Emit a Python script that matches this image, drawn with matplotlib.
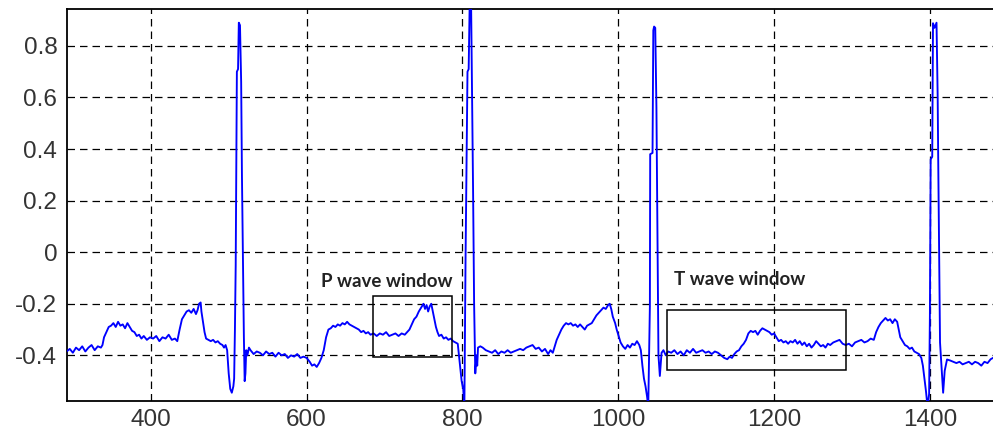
import matplotlib
matplotlib.use("Agg")
import matplotlib.pyplot as plt
from matplotlib.patches import Rectangle

# ECG trace (sample index, amplitude)
ecg_x = [292, 296, 300, 304, 308, 312, 316, 320, 324, 328, 332, 336,
         338, 340, 343, 346, 349, 352, 355, 358, 361, 364, 367, 370, 373,
         376, 379, 382, 385, 388, 391, 395, 399, 403, 407, 411, 415, 419, 423, 427, 431, 434,
         437, 440, 443, 446, 449, 452, 455, 458, 460, 462, 464, 465, 467, 469, 471, 474, 477,
         480, 483, 486, 489, 492, 494, 496,
         498, 500, 502, 504, 506, 507, 508, 509, 510.5, 512, 513, 514.5, 516, 517, 518.5,
         519.5, 520.5, 521.5, 522.5, 524, 526,
         528, 532, 536, 540, 544, 548, 552, 556, 560, 564, 568, 572, 576, 580, 584, 588, 592, 596, 600,
         604, 607, 610, 613, 616,
         619, 622, 625, 628, 631, 634, 637, 640, 643, 646, 649, 652, 655, 658, 661, 664, 667, 670,
         673, 676, 679, 682, 686, 690, 694, 698, 702, 706, 710, 714, 718, 722, 726, 729,
         732, 735, 738, 741, 744, 747, 750, 752, 754, 756, 758, 760, 762, 764, 766, 768, 770,
         773, 776, 779, 782, 785, 788, 791, 794,
         797, 799, 801, 802.5, 804, 806.5, 808, 809.5, 811, 813.7, 815, 816.5, 818, 819, 820, 823, 826,
         830, 834, 838, 842, 846, 850, 854, 858, 862, 866, 870, 874, 878, 882, 886, 890, 894, 898,
         902, 906, 910, 913, 916,
         918, 921, 924, 927, 930, 933, 936, 939, 942, 945, 948, 951, 954, 957, 960, 963, 966, 969,
         972, 975, 978, 981, 984, 987, 989, 991, 993, 996, 998, 1000, 1003, 1006, 1009, 1012, 1015,
         1018, 1021, 1024, 1027, 1029, 1031, 1033, 1035, 1037, 1038.5,
         1040.6, 1041, 1044, 1045, 1046, 1047.5, 1049, 1050.5, 1051.6, 1053.4, 1055.6, 1058, 1061, 1064,
         1068, 1072, 1076, 1080, 1084, 1088, 1092, 1096, 1100, 1104, 1108, 1112, 1116, 1120, 1124,
         1128, 1132, 1136, 1140, 1143, 1146, 1149, 1152, 1155, 1158, 1161, 1164, 1167, 1170, 1173,
         1176, 1179, 1182, 1185, 1188, 1191, 1194, 1197, 1200, 1203, 1206, 1209, 1212, 1215, 1218,
         1221, 1224, 1227, 1230, 1233, 1236, 1239, 1242, 1245, 1248, 1251, 1254, 1257, 1260, 1263,
         1266, 1269, 1272,
         1276, 1280, 1284, 1288, 1292, 1296, 1300, 1304, 1308, 1312, 1316, 1320, 1324, 1328, 1331,
         1334, 1337, 1340, 1343, 1346, 1349, 1352, 1355, 1358, 1360, 1362, 1365, 1368, 1371, 1374,
         1377, 1380, 1383, 1386, 1389, 1391, 1393, 1395, 1397,
         1399, 1400, 1401, 1403, 1404, 1406, 1408.5, 1410, 1410.6, 1413, 1415, 1417, 1419, 1422, 1426,
         1430, 1434, 1438, 1442, 1446, 1450, 1454, 1458, 1462, 1466, 1470, 1474, 1478, 1481]

ecg_y = [-0.385, -0.375, -0.39, -0.37, -0.38, -0.365, -0.385, -0.37, -0.36, -0.38, -0.365, -0.37,
         -0.36, -0.33, -0.31, -0.29, -0.285, -0.275, -0.29, -0.27, -0.285, -0.28, -0.295, -0.275, -0.29,
         -0.305, -0.31, -0.325, -0.32, -0.335, -0.325, -0.34, -0.33, -0.335, -0.325, -0.345, -0.33, -0.335, -0.32, -0.34, -0.335, -0.345,
         -0.30, -0.26, -0.245, -0.23, -0.225, -0.235, -0.22, -0.24, -0.225, -0.20, -0.195, -0.23, -0.27, -0.31, -0.335, -0.34, -0.345,
         -0.34, -0.35, -0.345, -0.355, -0.36, -0.37, -0.36,
         -0.38, -0.47, -0.53, -0.545, -0.52, -0.49, -0.30, -0.05, 0.70, 0.71, 0.89, 0.88, 0.66, 0.30, -0.10,
         -0.33, -0.50, -0.47, -0.38, -0.40, -0.37,
         -0.38, -0.395, -0.385, -0.39, -0.40, -0.385, -0.395, -0.39, -0.405, -0.39, -0.40, -0.395, -0.41, -0.40, -0.405, -0.395, -0.41, -0.405, -0.41,
         -0.425, -0.44, -0.435, -0.445, -0.43,
         -0.41, -0.38, -0.33, -0.30, -0.295, -0.285, -0.29, -0.28, -0.285, -0.275, -0.28, -0.27, -0.28, -0.285, -0.29, -0.295, -0.30, -0.31,
         -0.305, -0.315, -0.31, -0.32, -0.315, -0.325, -0.315, -0.32, -0.31, -0.325, -0.32, -0.315, -0.325, -0.315, -0.32, -0.31,
         -0.30, -0.28, -0.26, -0.25, -0.23, -0.215, -0.20, -0.22, -0.205, -0.23, -0.21, -0.20, -0.23, -0.26, -0.29, -0.31, -0.325,
         -0.32, -0.335, -0.33, -0.34, -0.335, -0.345, -0.35, -0.355,
         -0.44, -0.50, -0.53, -0.60, -0.03, 0.70, 0.71, 1.00, 1.00, 0.23, -0.20, -0.47, -0.40, -0.44, -0.37, -0.365, -0.37,
         -0.38, -0.385, -0.39, -0.38, -0.395, -0.385, -0.39, -0.38, -0.39, -0.385, -0.38, -0.375, -0.38, -0.37, -0.365, -0.36, -0.375, -0.37,
         -0.385, -0.375, -0.395, -0.38, -0.39,
         -0.37, -0.34, -0.32, -0.30, -0.285, -0.275, -0.28, -0.275, -0.285, -0.28, -0.29, -0.28, -0.29, -0.30, -0.285, -0.28, -0.275, -0.26,
         -0.245, -0.235, -0.225, -0.215, -0.22, -0.205, -0.20, -0.22, -0.25, -0.275, -0.30, -0.32, -0.35, -0.365, -0.375, -0.36, -0.37,
         -0.355, -0.36, -0.345, -0.36, -0.38, -0.44, -0.49, -0.52, -0.56, -0.60,
         -0.21, 0.38, 0.385, 0.86, 0.875, 0.87, 0.56, 0.0, -0.40, -0.48, -0.39, -0.38, -0.40, -0.385,
         -0.39, -0.38, -0.395, -0.385, -0.40, -0.38, -0.39, -0.375, -0.39, -0.385, -0.38, -0.39, -0.385, -0.395, -0.385,
         -0.39, -0.40, -0.41, -0.415, -0.405, -0.41, -0.395, -0.385, -0.38, -0.365, -0.355, -0.34, -0.315, -0.305, -0.31,
         -0.305, -0.32, -0.305, -0.295, -0.30, -0.305, -0.31, -0.32, -0.315, -0.33, -0.345, -0.34, -0.35, -0.345, -0.355,
         -0.345, -0.35, -0.34, -0.355, -0.345, -0.36, -0.35, -0.365, -0.355, -0.37, -0.36, -0.345, -0.355, -0.365, -0.36,
         -0.37, -0.355, -0.36,
         -0.35, -0.345, -0.34, -0.355, -0.36, -0.355, -0.365, -0.35, -0.345, -0.34, -0.35, -0.345, -0.335, -0.34, -0.31,
         -0.29, -0.275, -0.265, -0.255, -0.265, -0.26, -0.275, -0.26, -0.27, -0.30, -0.33, -0.345, -0.36, -0.365, -0.375,
         -0.37, -0.385, -0.39, -0.395, -0.41, -0.44, -0.49, -0.54, -0.60,
         -0.55, -0.25, 0.36, 0.37, 0.888, 0.87, 0.89, 0.60, 0.386, -0.35, -0.45, -0.545, -0.46, -0.416, -0.42,
         -0.425, -0.43, -0.425, -0.435, -0.43, -0.425, -0.435, -0.425, -0.43, -0.44, -0.425, -0.43, -0.415, -0.41]

x_ticks = [400, 600, 800, 1000, 1200, 1400]
y_ticks = [-0.4, -0.2, 0, 0.2, 0.4, 0.6, 0.8]
y_tick_labels = ["-0.4", "-0.2", "0", "0.2", "0.4", "0.6", "0.8"]

# annotation windows: (x0, x1, y0, y1)
p_window = (685, 786, -0.405, -0.169)
t_window = (1063, 1292, -0.455, -0.223)
p_label = "P wave window"
t_label = "T wave window"

fig = plt.figure(figsize=(9.93, 4.32), dpi=100)
ax = fig.add_axes([0.0675, 0.0718, 0.9325, 0.9067])

ax.plot(ecg_x, ecg_y, color="#0000ff", lw=1.35, zorder=3)

ax.set_xlim(292.5, 1481)
ax.set_ylim(-0.577, 0.942)
ax.set_xticks(x_ticks)
ax.set_yticks(y_ticks)
ax.set_yticklabels(y_tick_labels)
ax.grid(True, color="black", lw=0.9, linestyle=(0, (6, 4)))
ax.set_axisbelow(True)
ax.tick_params(length=0, labelsize=17.5, labelcolor="#333333")
ax.tick_params(axis="y", pad=7)
ax.tick_params(axis="x", pad=6)
for lab in ax.get_xticklabels() + ax.get_yticklabels():
    lab.set_fontfamily("Liberation Sans")
for s in ["left", "bottom", "top"]:
    ax.spines[s].set_linewidth(1.3)
ax.spines["right"].set_visible(False)

for (x0, x1, y0, y1) in [p_window, t_window]:
    ax.add_patch(Rectangle((x0, y0), x1 - x0, y1 - y0, fill=False,
                           edgecolor="black", lw=1.1, zorder=4))

ax.text(619, -0.113, p_label, fontsize=13.5, fontweight="bold", family="Lato",
        color="#222222", va="center", ha="left")
ax.text(1071, -0.104, t_label, fontsize=13.5, fontweight="bold", family="Lato",
        color="#222222", va="center", ha="left")

fig.savefig("out.png", dpi=100)
